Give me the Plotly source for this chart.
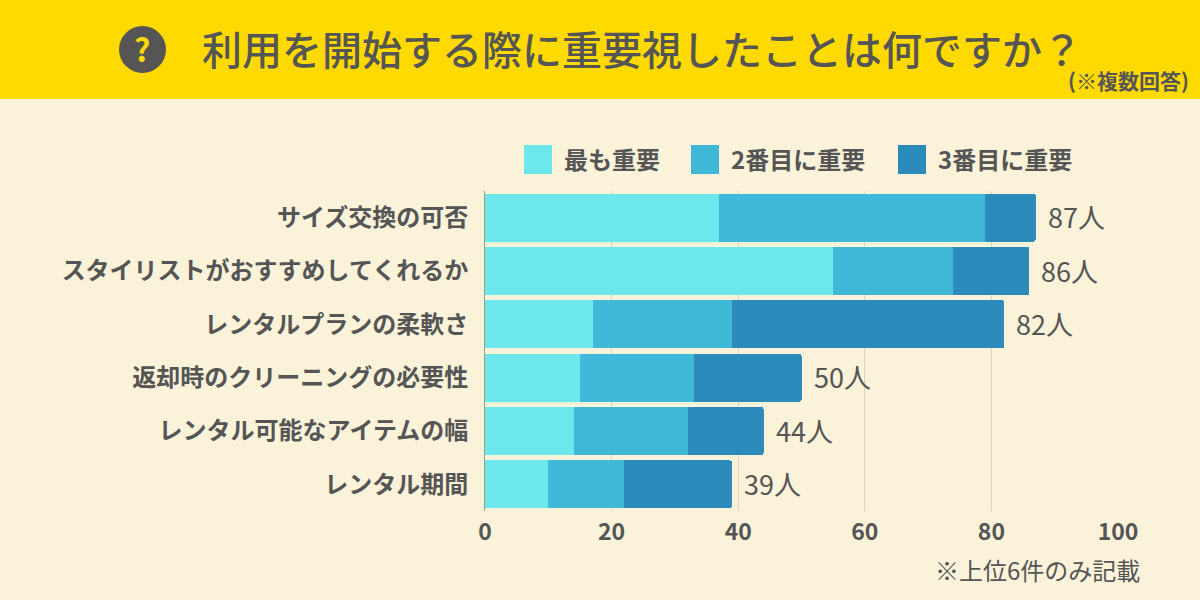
import plotly.graph_objects as go

# 回答データ
categories = ["サイズ交換の可否", "スタイリストがおすすめしてくれるか", "レンタルプランの柔軟さ",
              "返却時のクリーニングの必要性", "レンタル可能なアイテムの幅", "レンタル期間"]
series_names = ["最も重要", "2番目に重要", "3番目に重要"]
first = [37, 55, 17, 15, 14, 10]
second = [42, 19, 22, 18, 18, 12]
third = [8, 12, 43, 17, 12, 17]
totals = [87, 86, 82, 50, 44, 39]
x_ticks = [0, 20, 40, 60, 80, 100]

colors = ["#6CE8EC", "#40B8D8", "#2C8BBA"]
TEXT = "#555555"
FONT = "Noto Sans CJK JP"
W, H = 1200, 600
M_L, M_R, M_T, M_B = 485, 82, 191, 89


# paper座標はプロット領域基準なのでピクセルから変換する
def px_x(v):
    return (v - M_L) / (W - M_L - M_R)


def px_y(v):
    return 1 - (v - M_T) / (H - M_T - M_B)


fig = go.Figure()

for name, vals, col in zip(series_names, [first, second, third], colors):
    fig.add_trace(go.Bar(y=categories, x=vals, name=name, orientation="h",
                         marker=dict(color=col, line=dict(width=0)),
                         hoverinfo="x+y"))

shapes = [
    dict(type="rect", xref="paper", yref="paper", x0=px_x(0), x1=px_x(W), y0=px_y(99), y1=px_y(0),
         fillcolor="#FFDA00", line_width=0, layer="below"),
    dict(type="circle", xref="paper", yref="paper", x0=px_x(119), x1=px_x(166),
         y0=px_y(73), y1=px_y(26), fillcolor=TEXT, line_width=0),
]

annotations = [
    dict(text="<b>?</b>", x=px_x(142.5), y=px_y(48), font=dict(size=32, color="#FFDA00")),
    dict(text="利用を開始する際に重要視したことは何ですか？", x=px_x(642), y=px_y(48),
         font=dict(size=40, color=TEXT, weight=500)),
    dict(text="<b>(※複数回答)</b>", x=px_x(1128), y=px_y(80), font=dict(size=21, color=TEXT)),
    dict(text="※上位6件のみ記載", x=px_x(1037.5), y=px_y(569), font=dict(size=24, color=TEXT)),
]

# 凡例
legend_x = [(524, 562), (691, 729), (898, 936)]
for (sx, tx), name, col in zip(legend_x, series_names, colors):
    shapes.append(dict(type="rect", xref="paper", yref="paper", x0=px_x(sx), x1=px_x(sx + 28),
                       y0=px_y(174), y1=px_y(145), fillcolor=col, line_width=0))
    annotations.append(dict(text=f"<b>{name}</b>", x=px_x(tx), y=px_y(158), xanchor="left",
                            font=dict(size=24, color=TEXT)))

for a in annotations:
    a.update(xref="paper", yref="paper", showarrow=False)
    a.setdefault("xanchor", "center")
    a.setdefault("yanchor", "middle")

# 合計ラベル
for cat, t in zip(categories, totals):
    annotations.append(dict(x=t, y=cat, xref="x", yref="y", text=f"{t}人", showarrow=False,
                            xanchor="left", xshift=10, yshift=1, font=dict(size=27, color=TEXT)))

fig.update_layout(
    width=W, height=H,
    barmode="stack", bargap=0.1, barcornerradius=2,
    showlegend=False,
    paper_bgcolor="#FAF3DA", plot_bgcolor="#FAF3DA",
    font=dict(family=FONT, color=TEXT),
    margin=dict(l=M_L, r=M_R, t=M_T, b=M_B, autoexpand=False),
    shapes=shapes, annotations=annotations,
)
fig.update_xaxes(range=[0, 100], tickvals=x_ticks, showgrid=True, gridcolor="#D8D4BE", gridwidth=1,
                 zeroline=False, showline=False, ticks="",
                 tickfont=dict(size=23, color=TEXT, weight="bold"), ticklabelstandoff=5)
fig.update_yaxes(autorange="reversed", showline=True, linecolor="#9A9A8E", linewidth=1, ticks="",
                 ticklabelstandoff=11,
                 tickfont=dict(size=24, color=TEXT, weight="bold"))

fig.write_html("out.html", config={"displayModeBar": False},
               post_script="document.body.style.margin='0';")
